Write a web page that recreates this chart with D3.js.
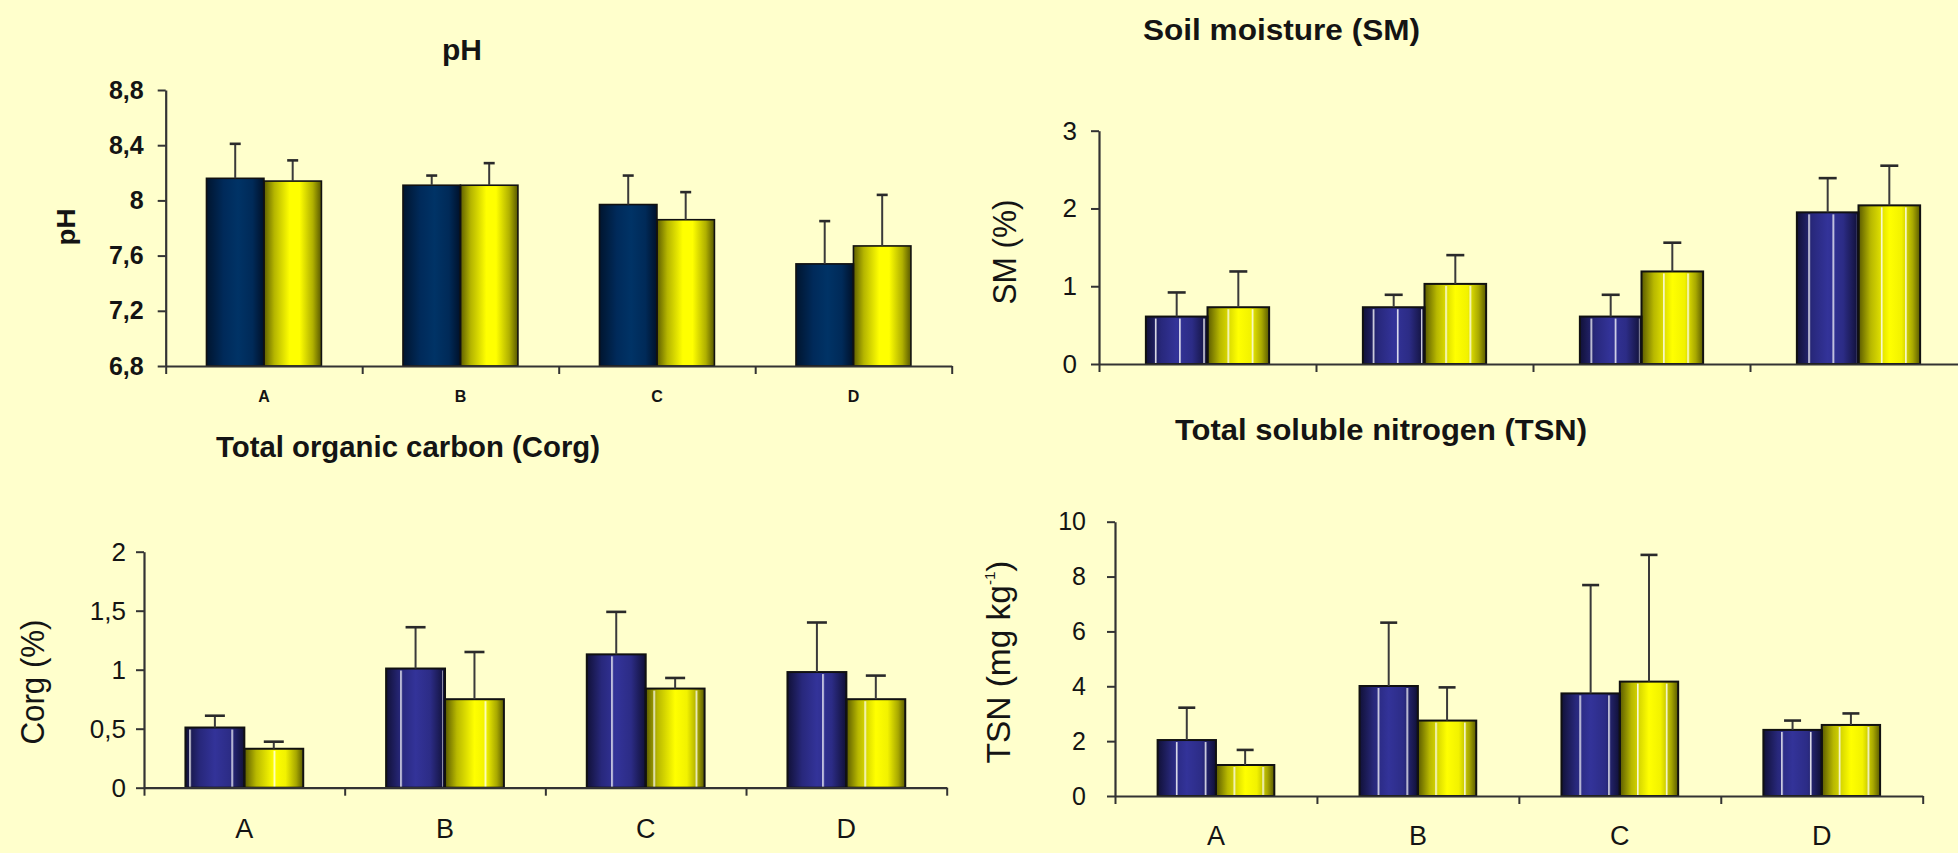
<!DOCTYPE html>
<html><head><meta charset="utf-8">
<script src="https://cdn.jsdelivr.net/npm/d3@7"></script>
<style>
html,body{margin:0;padding:0;background:#FFFFCC;overflow:hidden}
svg{display:block}
text{font-family:"Liberation Sans",Arial,sans-serif;fill:#141414}
</style></head><body>
<svg id="chart" width="1958" height="853"></svg>
<script>
// ---------- DATA ----------
const categories = ["A", "B", "C", "D"];
const seriesKeys = ["s1", "s2"];

const phTicks  = [6.8, 7.2, 7.6, 8, 8.4, 8.8];
const phMean1  = [8.16, 8.11, 7.97, 7.54];
const phSd1    = [0.25, 0.07, 0.21, 0.31];
const phMean2  = [8.14, 8.11, 7.86, 7.67];
const phSd2    = [0.15, 0.16, 0.20, 0.37];

const smTicks  = [0, 1, 2, 3];
const smMean1  = [0.61, 0.73, 0.61, 1.95];
const smSd1    = [0.31, 0.16, 0.28, 0.44];
const smMean2  = [0.73, 1.03, 1.19, 2.04];
const smSd2    = [0.46, 0.37, 0.37, 0.51];

const corgTicks = [0, 0.5, 1, 1.5, 2];
const corgMean1 = [0.51, 1.01, 1.13, 0.98];
const corgSd1   = [0.10, 0.35, 0.36, 0.42];
const corgMean2 = [0.33, 0.75, 0.84, 0.75];
const corgSd2   = [0.06, 0.40, 0.09, 0.20];

const tsnTicks  = [0, 2, 4, 6, 8, 10];
const tsnMean1  = [2.04, 4.01, 3.74, 2.41];
const tsnSd1    = [1.18, 2.31, 3.95, 0.34];
const tsnMean2  = [1.13, 2.75, 4.17, 2.59];
const tsnSd2    = [0.55, 1.21, 4.62, 0.42];

// ---------- SETUP ----------
const svg = d3.select("#chart");
svg.append("rect").attr("width", 1958).attr("height", 853).attr("fill", "#FFFFCC");
const defs = svg.append("defs");

function grad(id, stops) {
  const g = defs.append("linearGradient").attr("id", id)
    .attr("x1", "0").attr("x2", "1").attr("y1", "0").attr("y2", "0");
  stops.forEach(([o, c]) => g.append("stop").attr("offset", o).attr("stop-color", c));
}
grad("phNavy",  [[0, "#00152f"], [0.3, "#002a5a"], [0.55, "#003366"], [0.8, "#002a58"], [1, "#00112a"]]);
grad("phYel",   [[0, "#5e5e00"], [0.18, "#b5b500"], [0.45, "#ffff00"], [0.62, "#ffff00"], [0.85, "#b0b000"], [1, "#575700"]]);
grad("blue",    [[0, "#111138"], [0.25, "#28287c"], [0.5, "#333399"], [0.75, "#2c2c86"], [1, "#101036"]]);
grad("yel",     [[0, "#5a5a00"], [0.2, "#b8b800"], [0.5, "#ffff00"], [0.7, "#f2f200"], [0.88, "#a8a800"], [1, "#5a5a00"]]);

function stripe(id, period, center) {
  const p = defs.append("pattern").attr("id", id)
    .attr("patternUnits", "userSpaceOnUse")
    .attr("x", center - 0.8).attr("y", 0)
    .attr("width", period).attr("height", 10);
  p.append("rect").attr("x", 0).attr("y", 0).attr("width", 1.6).attr("height", 10)
    .attr("fill", "#ffffff").attr("fill-opacity", 0.85);
}
stripe("stSM", 24.2, 1155.7);
stripe("stCorg", 42.2, 190);
stripe("stTSN", 28.82, 1176.7);

const fmt = d => String(d).replace(".", ",");

const panels = [
  { m1: phMean1, sd1: phSd1, m2: phMean2, sd2: phSd2, ticks: phTicks, domain: [6.8, 8.8],
    x0: 165.7, x1: 951.7, yTop: 90, yBot: 366, pad: 0.415,
    fills: ["phNavy", "phYel"], stripe: null, barStroke: 1.6, capW: 11,
    tickFont: 25, tickWeight: "bold", tickPad: 14,
    labels: true, labelFont: 16, labelWeight: "bold", labelY: 402,
    title: "pH", titleX: 462, titleY: 60, titleFont: 30, titleWeight: "bold", titleLen: null,
    ylab: "pH", ylabX: 74.5, ylabY: 227, ylabFont: 26, ylabWeight: "bold", ylabLen: 37 },
  { m1: smMean1, sd1: smSd1, m2: smMean2, sd2: smSd2, ticks: smTicks, domain: [0, 3],
    x0: 1099, x1: 1967, yTop: 130.7, yBot: 364, pad: 0.432,
    fills: ["blue", "yel"], stripe: "stSM", barStroke: 2, capW: 18,
    tickFont: 26, tickWeight: "normal", tickPad: 14,
    labels: false,
    title: "Soil moisture (SM)", titleX: 1143, titleY: 40, titleFont: 30, titleWeight: "bold", titleLen: 277,
    ylab: "SM (%)", ylabX: 1016, ylabY: 252, ylabFont: 34, ylabWeight: "normal", ylabLen: 105 },
  { m1: corgMean1, sd1: corgSd1, m2: corgMean2, sd2: corgSd2, ticks: corgTicks, domain: [0, 2],
    x0: 144, x1: 946.7, yTop: 551.7, yBot: 787.7, pad: 0.413,
    fills: ["blue", "yel"], stripe: "stCorg", barStroke: 2, capW: 20,
    tickFont: 26, tickWeight: "normal", tickPad: 10,
    labels: true, labelFont: 27, labelWeight: "normal", labelY: 838,
    title: "Total organic carbon (Corg)", titleX: 216, titleY: 457, titleFont: 30, titleWeight: "bold", titleLen: 384,
    ylab: "Corg (%)", ylabX: 44, ylabY: 682, ylabFont: 34, ylabWeight: "normal", ylabLen: 125 },
  { m1: tsnMean1, sd1: tsnSd1, m2: tsnMean2, sd2: tsnSd2, ticks: tsnTicks, domain: [0, 10],
    x0: 1115, x1: 1922.7, yTop: 521.7, yBot: 796, pad: 0.422,
    fills: ["blue", "yel"], stripe: "stTSN", barStroke: 2, capW: 17,
    tickFont: 25, tickWeight: "normal", tickPad: 21,
    labels: true, labelFont: 27, labelWeight: "normal", labelY: 845,
    title: "Total soluble nitrogen (TSN)", titleX: 1175, titleY: 440, titleFont: 29, titleWeight: "bold", titleLen: 412,
    ylab: "TSN", ylabX: 1009.5, ylabY: 662, ylabFont: 34, ylabWeight: "normal", ylabLen: 203, tsn: true }
];

function drawPanel(cfg) {
  const g = svg.append("g");
  const x = d3.scaleBand().domain(categories).range([cfg.x0, cfg.x1])
    .paddingInner(cfg.pad).paddingOuter(cfg.pad / 2);
  const xs = d3.scaleBand().domain(seriesKeys).range([0, x.bandwidth()]);
  const y = d3.scaleLinear().domain(cfg.domain).range([cfg.yBot, cfg.yTop]);
  const edges = d3.scaleLinear().domain([0, categories.length]).range([cfg.x0, cfg.x1]);

  const bars = [];
  categories.forEach((c, i) => {
    bars.push({ c, k: "s1", m: cfg.m1[i], sd: cfg.sd1[i], fill: cfg.fills[0] });
    bars.push({ c, k: "s2", m: cfg.m2[i], sd: cfg.sd2[i], fill: cfg.fills[1] });
  });
  const bx = d => x(d.c) + xs(d.k);
  const bw = xs.bandwidth();

  g.selectAll("rect.bar").data(bars).join("rect").attr("class", "bar")
    .attr("x", bx).attr("y", d => y(d.m)).attr("width", bw)
    .attr("height", d => cfg.yBot - y(d.m)).attr("fill", d => `url(#${d.fill})`);
  if (cfg.stripe) {
    g.selectAll("rect.st").data(bars).join("rect").attr("class", "st")
      .attr("x", d => bx(d) + 2).attr("y", d => y(d.m) + 2).attr("width", bw - 4)
      .attr("height", d => cfg.yBot - y(d.m) - 2).attr("fill", `url(#${cfg.stripe})`);
  }
  g.selectAll("rect.ol").data(bars).join("rect").attr("class", "ol")
    .attr("x", bx).attr("y", d => y(d.m)).attr("width", bw)
    .attr("height", d => cfg.yBot - y(d.m)).attr("fill", "none")
    .attr("stroke", "#111").attr("stroke-width", cfg.barStroke);

  // error bars
  const cx = d => bx(d) + bw / 2;
  g.selectAll("line.ev").data(bars).join("line").attr("class", "ev")
    .attr("x1", cx).attr("x2", cx).attr("y1", d => y(d.m)).attr("y2", d => y(d.m + d.sd))
    .attr("stroke", "#3a3a3a").attr("stroke-width", 2);
  g.selectAll("line.ec").data(bars).join("line").attr("class", "ec")
    .attr("x1", d => cx(d) - cfg.capW / 2).attr("x2", d => cx(d) + cfg.capW / 2)
    .attr("y1", d => y(d.m + d.sd)).attr("y2", d => y(d.m + d.sd))
    .attr("stroke", "#2a2a2a").attr("stroke-width", 2.6);

  // axes
  const ya = g.append("g").attr("transform", `translate(${cfg.x0},0)`)
    .call(d3.axisLeft(y).tickValues(cfg.ticks).tickSize(8).tickSizeOuter(0)
      .tickPadding(cfg.tickPad).tickFormat(fmt));
  const xa = g.append("g").attr("transform", `translate(0,${cfg.yBot})`)
    .call(d3.axisBottom(edges).tickValues(d3.range(categories.length + 1))
      .tickSize(8).tickSizeOuter(0).tickFormat(""));
  [ya, xa].forEach(a => {
    a.selectAll("path.domain").attr("stroke", "#333").attr("stroke-width", 2.2);
    a.selectAll(".tick line").attr("stroke", "#333").attr("stroke-width", 2);
  });
  ya.selectAll(".tick text").attr("font-size", cfg.tickFont).attr("font-weight", cfg.tickWeight)
    .attr("font-family", "Liberation Sans, Arial, sans-serif").attr("fill", "#141414");

  if (cfg.labels) {
    g.selectAll("text.cat").data(categories).join("text").attr("class", "cat")
      .attr("x", c => x(c) + x.bandwidth() / 2).attr("y", cfg.labelY)
      .attr("text-anchor", "middle").attr("font-size", cfg.labelFont)
      .attr("font-weight", cfg.labelWeight).text(c => c);
  }

  const t = g.append("text").attr("x", cfg.titleX).attr("y", cfg.titleY)
    .attr("font-size", cfg.titleFont).attr("font-weight", cfg.titleWeight).text(cfg.title);
  if (cfg.titleLen) t.attr("textLength", cfg.titleLen).attr("lengthAdjust", "spacingAndGlyphs");
  else t.attr("text-anchor", "middle");

  const yl = g.append("text")
    .attr("transform", `translate(${cfg.ylabX},${cfg.ylabY}) rotate(-90)`)
    .attr("text-anchor", "middle").attr("font-size", cfg.ylabFont)
    .attr("font-weight", cfg.ylabWeight)
    .attr("textLength", cfg.ylabLen).attr("lengthAdjust", "spacingAndGlyphs");
  if (cfg.tsn) {
    yl.append("tspan").text("TSN (mg kg");
    yl.append("tspan").attr("font-size", cfg.ylabFont * 0.45).attr("dy", -cfg.ylabFont * 0.42).text("-1");
    yl.append("tspan").attr("dy", cfg.ylabFont * 0.42).text(")");
  } else {
    yl.text(cfg.ylab);
  }
}

panels.forEach(drawPanel);
</script>
</body></html>
